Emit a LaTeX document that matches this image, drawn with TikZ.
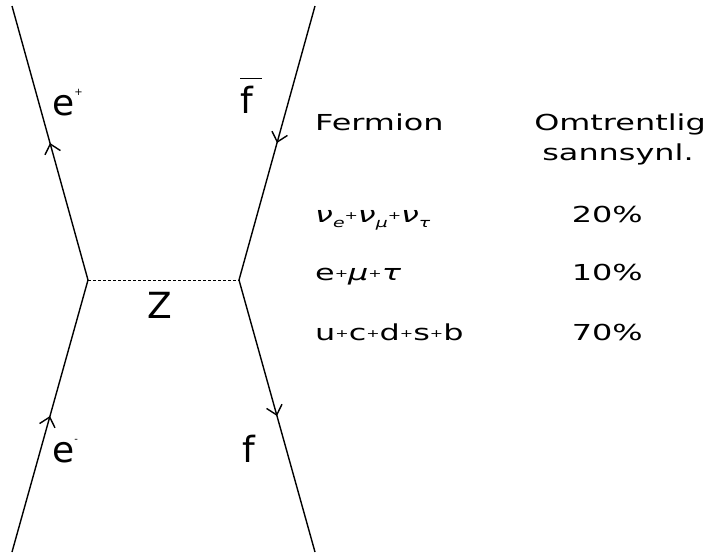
\documentclass[tikz,border=0pt]{standalone}
\usepackage{fontspec}
\setmainfont{DejaVu Sans}
\newfontfamily\widefont[FakeStretch=1.45]{DejaVu Sans}
\usetikzlibrary{arrows.meta, decorations.markings}

\newcommand{\smallplus}{\raisebox{3pt}{\fontsize{11}{11}\selectfont+}}
\newcommand{\lowsub}[1]{\raisebox{-5pt}{\fontsize{13}{13}\selectfont\itshape #1}}

\begin{document}
\begin{tikzpicture}[x=1pt, y=-1pt,
  fermion/.style={line width=1.4pt, postaction={decorate},
    decoration={markings, mark=at position 0.5 with {\arrow{Straight Barb[length=9pt, width=16pt]}}}},
  boson/.style={line width=0.8pt, dash pattern=on 3pt off 2pt},
  lbl/.style={font=\fontsize{36}{40}\selectfont, inner sep=0pt, anchor=base west},
  txt/.style={font=\widefont\fontsize{22}{26}\selectfont, inner sep=0pt, anchor=base west},
  pct/.style={font=\widefont\fontsize{22}{26}\selectfont, inner sep=0pt, anchor=base east}]
\useasboundingbox (0,0) rectangle (711,552);

% vertices and external legs
\coordinate (vl) at (88,280);
\coordinate (vr) at (239,280);
\coordinate (tl) at (12,6);
\coordinate (tr) at (315,6);
\coordinate (bl) at (12,552);
\coordinate (br) at (315,552);

\draw[fermion] (vl) -- (tl);
\draw[fermion] (tr) -- (vr);
\draw[fermion] (bl) -- (vl);
\draw[fermion] (vr) -- (br);
\draw[boson] (vl) -- (vr);

% particle labels
\node[lbl] (eplus) at (52,115) {e\raisebox{20pt}{\fontsize{10}{10}\selectfont+}};
\node[lbl] (fbar) at (240,113) {\makebox[0pt][l]{\raisebox{34pt}{\rule{22pt}{0.9pt}}}f};
\node[lbl] (Z) at (147,318) {Z};
\node[lbl] (eminus) at (52,462) {e\raisebox{20pt}{\fontsize{10}{10}\selectfont-}};
\node[lbl] (f) at (242,462) {f};

% table
\node[txt] (fermion) at (315,130) {Fermion};
\node[txt, anchor=base] (omtr) at (620,130) {Omtrentlig};
\node[txt, anchor=base] (sann) at (618,160) {sannsynl.};

\node[txt] (nu) at (315,222) {{\itshape ν}\lowsub{e}\smallplus{\itshape ν}\lowsub{μ}\smallplus{\itshape ν}\lowsub{τ}};
\node[txt] (lep) at (315,280) {e\smallplus{\itshape μ}\smallplus{\itshape τ}};
\node[txt] (qrk) at (315,340) {u\smallplus c\smallplus d\smallplus s\smallplus b};

\node[pct] (p20) at (643,222) {20\%};
\node[pct] (p10) at (643,280) {10\%};
\node[pct] (p70) at (643,340) {70\%};
\end{tikzpicture}
\end{document}
